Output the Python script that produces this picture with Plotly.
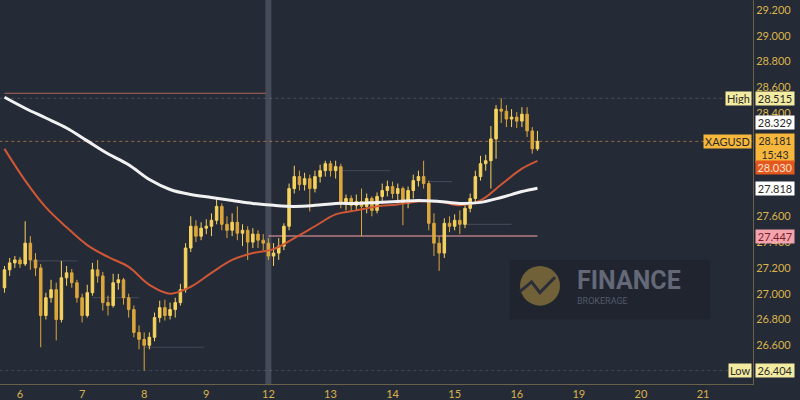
import pandas as pd
import plotly.graph_objects as go

# ---------------- data ----------------
opens = [27.046, 27.185, 27.239, 27.262, 27.231, 27.392, 27.262, 27.200, 26.831, 26.969,
         27.031, 26.800, 27.123, 27.162, 27.085, 26.969, 26.831, 27.008, 27.185, 27.138,
         26.931, 26.908, 27.085, 27.108, 26.969, 26.877, 26.700, 26.646, 26.600, 26.662,
         26.815, 26.892, 26.831, 26.877, 26.931, 27.031, 27.354, 27.523, 27.446, 27.508,
         27.523, 27.569, 27.677, 27.538, 27.492, 27.554, 27.469, 27.492, 27.400, 27.462,
         27.415, 27.392, 27.292, 27.315, 27.369, 27.523, 27.815, 27.908, 27.846, 27.892,
         27.815, 27.908, 27.954, 28.008, 27.954, 27.985, 27.700, 27.738, 27.685, 27.715,
         27.677, 27.738, 27.646, 27.754, 27.800, 27.831, 27.777, 27.815, 27.700, 27.800,
         27.877, 27.908, 27.854, 27.546, 27.392, 27.315, 27.546, 27.523, 27.569, 27.538,
         27.662, 27.738, 27.908, 28.008, 28.031, 28.200, 28.431, 28.415, 28.354, 28.369,
         28.338, 28.392, 28.262, 28.123]
highs = [27.215, 27.277, 27.292, 27.285, 27.562, 27.446, 27.315, 27.231, 27.008, 27.108,
         27.085, 27.254, 27.215, 27.192, 27.108, 27.000, 27.069, 27.239, 27.262, 27.169,
         26.985, 27.154, 27.154, 27.123, 27.000, 26.908, 26.754, 26.700, 26.700, 26.854,
         26.946, 26.954, 26.931, 26.969, 27.077, 27.392, 27.600, 27.569, 27.554, 27.577,
         27.623, 27.738, 27.700, 27.600, 27.623, 27.677, 27.538, 27.523, 27.508, 27.492,
         27.462, 27.431, 27.392, 27.431, 27.546, 27.854, 27.992, 27.954, 27.938, 27.923,
         27.954, 28.000, 28.031, 28.031, 28.031, 28.008, 27.769, 27.762, 27.769, 27.815,
         27.777, 27.754, 27.785, 27.854, 27.877, 27.869, 27.854, 27.831, 27.831, 27.923,
         27.954, 28.031, 27.877, 27.623, 27.446, 27.585, 27.600, 27.615, 27.646, 27.700,
         27.777, 27.954, 28.069, 28.077, 28.300, 28.462, 28.515, 28.462, 28.431, 28.408,
         28.446, 28.446, 28.292, 28.262]
lows = [27.008, 27.138, 27.200, 27.200, 27.215, 27.185, 27.138, 26.585, 26.800, 26.931,
        26.638, 26.777, 27.062, 27.046, 26.931, 26.777, 26.815, 26.985, 27.085, 26.869,
        26.831, 26.892, 27.031, 26.915, 26.815, 26.662, 26.569, 26.404, 26.569, 26.631,
        26.777, 26.792, 26.800, 26.815, 26.908, 27.008, 27.323, 27.400, 27.415, 27.462,
        27.446, 27.538, 27.492, 27.431, 27.446, 27.415, 27.369, 27.262, 27.354, 27.354,
        27.338, 27.262, 27.215, 27.262, 27.338, 27.492, 27.777, 27.800, 27.800, 27.638,
        27.785, 27.862, 27.908, 27.908, 27.892, 27.662, 27.646, 27.638, 27.646, 27.446,
        27.623, 27.600, 27.623, 27.700, 27.754, 27.738, 27.700, 27.531, 27.662, 27.738,
        27.831, 27.815, 27.492, 27.292, 27.177, 27.277, 27.477, 27.492, 27.462, 27.508,
        27.631, 27.708, 27.877, 27.954, 27.815, 28.046, 28.323, 28.292, 28.292, 28.285,
        28.292, 28.215, 28.085, 28.108]
closes = [27.185, 27.239, 27.262, 27.231, 27.392, 27.262, 27.200, 26.831, 26.969, 27.031,
          26.800, 27.123, 27.162, 27.085, 26.969, 26.831, 27.008, 27.185, 27.138, 26.931,
          26.908, 27.085, 27.108, 26.969, 26.877, 26.700, 26.646, 26.600, 26.662, 26.815,
          26.892, 26.831, 26.877, 26.931, 27.031, 27.354, 27.523, 27.446, 27.508, 27.523,
          27.569, 27.677, 27.538, 27.492, 27.554, 27.469, 27.492, 27.400, 27.462, 27.415,
          27.392, 27.292, 27.315, 27.369, 27.523, 27.815, 27.908, 27.846, 27.892, 27.815,
          27.908, 27.954, 28.008, 27.954, 27.985, 27.700, 27.738, 27.685, 27.715, 27.677,
          27.738, 27.646, 27.754, 27.800, 27.831, 27.777, 27.815, 27.700, 27.800, 27.877,
          27.908, 27.854, 27.546, 27.392, 27.315, 27.546, 27.523, 27.569, 27.538, 27.662,
          27.738, 27.908, 28.008, 28.031, 28.200, 28.431, 28.415, 28.354, 28.369, 28.338,
          28.392, 28.262, 28.123, 28.181]

# 2-hour candles, weekends skipped
times = [t for t in pd.date_range("2024-08-05 18:00", "2024-08-16 08:00", freq="2h")
         if t.weekday() < 5]

# moving averages, sampled every 4th candle plus the last one
ma_idx = list(range(0, 104, 4)) + [103]
ma_times = [times[i] for i in ma_idx]
ma_fast = [28.123, 27.877, 27.669, 27.515, 27.377, 27.285, 27.208, 27.069, 27.000, 27.054,
           27.162, 27.262, 27.315, 27.346, 27.431, 27.523, 27.615, 27.646, 27.677, 27.692,
           27.715, 27.715, 27.685, 27.723, 27.846, 27.969, 28.030]
ma_slow = [28.523, 28.438, 28.362, 28.285, 28.185, 28.085, 28.000, 27.885, 27.808, 27.769,
           27.746, 27.723, 27.700, 27.685, 27.677, 27.685, 27.700, 27.700, 27.708, 27.715,
           27.723, 27.715, 27.700, 27.708, 27.746, 27.792, 27.818]

tick_days = ["2024-08-06", "2024-08-07", "2024-08-08", "2024-08-09", "2024-08-12",
             "2024-08-13", "2024-08-14", "2024-08-15", "2024-08-16", "2024-08-19",
             "2024-08-20", "2024-08-21"]
tick_labels = ["6", "7", "8", "9", "12", "13", "14", "15", "16", "19", "20", "21"]
price_ticks = [26.6, 26.8, 27.0, 27.2, 27.4, 27.6, 27.8, 28.0, 28.2, 28.4, 28.6, 28.8, 29.0, 29.2]

# horizontal levels: (price, start, end, colour, width, dash)
levels = [
    (28.554, "2024-08-05 18:00", "2024-08-09 23:00", "rgba(190,110,98,0.9)", 1, "solid"),
    (28.515, "2024-08-05 16:00", "2024-08-21 20:00", "rgba(150,150,165,0.35)", 1, "dot"),
    (28.181, "2024-08-05 16:00", "2024-08-21 20:00", "rgba(210,140,70,0.65)", 1, "dot"),
    (27.447, "2024-08-12 00:00", "2024-08-16 08:00", "rgba(228,150,158,0.75)", 1.5, "solid"),
    (26.404, "2024-08-05 16:00", "2024-08-21 20:00", "rgba(150,150,165,0.30)", 1, "dot"),
    (27.254, "2024-08-06 04:00", "2024-08-06 22:00", "rgba(150,150,165,0.30)", 1, "solid"),
    (26.969, "2024-08-07 04:00", "2024-08-07 22:00", "rgba(150,150,165,0.30)", 1, "solid"),
    (26.585, "2024-08-08 00:00", "2024-08-08 23:00", "rgba(150,150,165,0.30)", 1, "solid"),
    (27.954, "2024-08-13 04:00", "2024-08-13 23:00", "rgba(150,150,165,0.30)", 1, "solid"),
    (27.869, "2024-08-14 14:00", "2024-08-14 23:00", "rgba(150,150,165,0.30)", 1, "solid"),
    (27.538, "2024-08-15 03:00", "2024-08-15 22:00", "rgba(150,150,165,0.30)", 1, "solid"),
]

# right-axis badges: (value, text, bg, fg, yshift, side label, side bg)
badges = [
    (28.515, "28.515", "#f3eb9f", "#2a2a2a", 0, "High", "#f3eb9f"),
    (28.329, "28.329", "#ffffff", "#2a2a2a", 0, None, None),
    (28.181, "28.181<br>15:43", "#f6b73c", "#2a2a2a", -7, "XAGUSD", "#f6b73c"),
    (28.030, "28.030", "#e4571d", "#fbe3cf", -7, None, None),
    (27.818, "27.818", "#ffffff", "#2a2a2a", 0, None, None),
    (27.447, "27.447", "#f3a4ad", "#7a1f2b", 0, None, None),
    (26.404, "26.404", "#f3eb9f", "#2a2a2a", 0, "Low", "#f3eb9f"),
]

BG = "#252a37"
GOLD = "#d9b44a"
FONT = "Lato"

fig = go.Figure()

fig.add_trace(go.Candlestick(
    x=times, open=opens, high=highs, low=lows, close=closes,
    increasing=dict(line=dict(color="#f6d35e", width=1), fillcolor="#f6d35e"),
    decreasing=dict(line=dict(color="#dba73c", width=1), fillcolor="#dba73c"),
    whiskerwidth=0, showlegend=False, hoverinfo="skip"))

fig.add_trace(go.Scatter(x=ma_times, y=ma_fast, mode="lines",
                         line=dict(color="#cf5734", width=2, shape="spline"),
                         showlegend=False, hoverinfo="skip"))
fig.add_trace(go.Scatter(x=ma_times, y=ma_slow, mode="lines",
                         line=dict(color="#f2f2f2", width=3, shape="spline"),
                         showlegend=False, hoverinfo="skip"))

shapes = []
shapes.append(dict(type="line", xref="x", yref="paper", x0="2024-08-12 00:00",
                   x1="2024-08-12 00:00", y0=0, y1=1,
                   line=dict(color="rgba(110,116,134,0.45)", width=6), layer="below"))
for p, s, e, c, w, d in levels:
    shapes.append(dict(type="line", xref="x", yref="y", x0=s, x1=e, y0=p, y1=p,
                       line=dict(color=c, width=w, dash=d), layer="below"))

# watermark (paper coordinates)
shapes.append(dict(type="rect", xref="paper", yref="paper", x0=0.677, x1=0.943,
                   y0=0.168, y1=0.323, fillcolor="rgba(18,20,28,0.28)", line=dict(width=0),
                   layer="above"))
shapes.append(dict(type="circle", xref="paper", yref="paper", x0=0.6906, x1=0.7437,
                   y0=0.2041, y1=0.3075, fillcolor="rgba(128,108,58,0.85)",
                   line=dict(width=0), layer="above"))
shapes.append(dict(type="path", xref="paper", yref="paper",
                   path="M 0.690 0.240 L 0.706 0.266 L 0.717 0.238 L 0.737 0.278",
                   line=dict(color="#2b2e38", width=3), layer="above"))

annotations = [
    dict(xref="paper", yref="paper", x=0.7636, y=0.270, xanchor="left", yanchor="middle",
         text="<b>FINANCE</b>", showarrow=False,
         font=dict(family="Roboto", size=25, color="#646877")),
    dict(xref="paper", yref="paper", x=0.7636, y=0.215, xanchor="left", yanchor="middle",
         text="BROKERAGE", showarrow=False,
         font=dict(family="Roboto", size=9, color="#555968")),
]
for v, txt, bg, fg, ys, side, sbg in badges:
    two = "<br>" in txt
    annotations.append(dict(xref="paper", yref="y", x=1, y=v, xanchor="left",
                            yanchor="middle", xshift=2, yshift=ys, text=txt, showarrow=False,
                            bgcolor=bg, width=36, height=26 if two else 11, borderpad=1,
                            font=dict(family=FONT, size=11 if not two else 10.5, color=fg)))
    if side:
        annotations.append(dict(xref="paper", yref="y", x=1, y=v, xanchor="right",
                                yanchor="middle", xshift=-1, text=side, showarrow=False,
                                bgcolor=sbg, height=11, borderpad=1,
                                font=dict(family=FONT, size=11, color="#2a2a2a")))

fig.update_layout(
    width=800, height=400,
    margin=dict(l=0, r=47, t=0, b=13),
    paper_bgcolor=BG, plot_bgcolor=BG,
    shapes=shapes, annotations=annotations,
    font=dict(family=FONT, size=11, color=GOLD),
    xaxis=dict(rangeslider=dict(visible=False),
               range=["2024-08-05 16:16", "2024-08-21 19:19"],
               rangebreaks=[dict(bounds=["sat", "mon"])],
               tickvals=tick_days, ticktext=tick_labels,
               showgrid=False, zeroline=False, showline=True,
               linecolor="#6a614a", linewidth=1, ticks="",
               tickfont=dict(color=GOLD, size=11)),
    yaxis=dict(side="right", range=[26.300, 29.277], tickvals=price_ticks,
               tickformat=".3f", showgrid=False, zeroline=False, showline=True,
               linecolor="#6a614a", linewidth=1, ticks="",
               tickfont=dict(color=GOLD, size=11)),
)

fig.write_html("out.html", config={"displayModeBar": False},
               post_script="document.body.style.margin='0';document.body.style.background='#252a37';")
